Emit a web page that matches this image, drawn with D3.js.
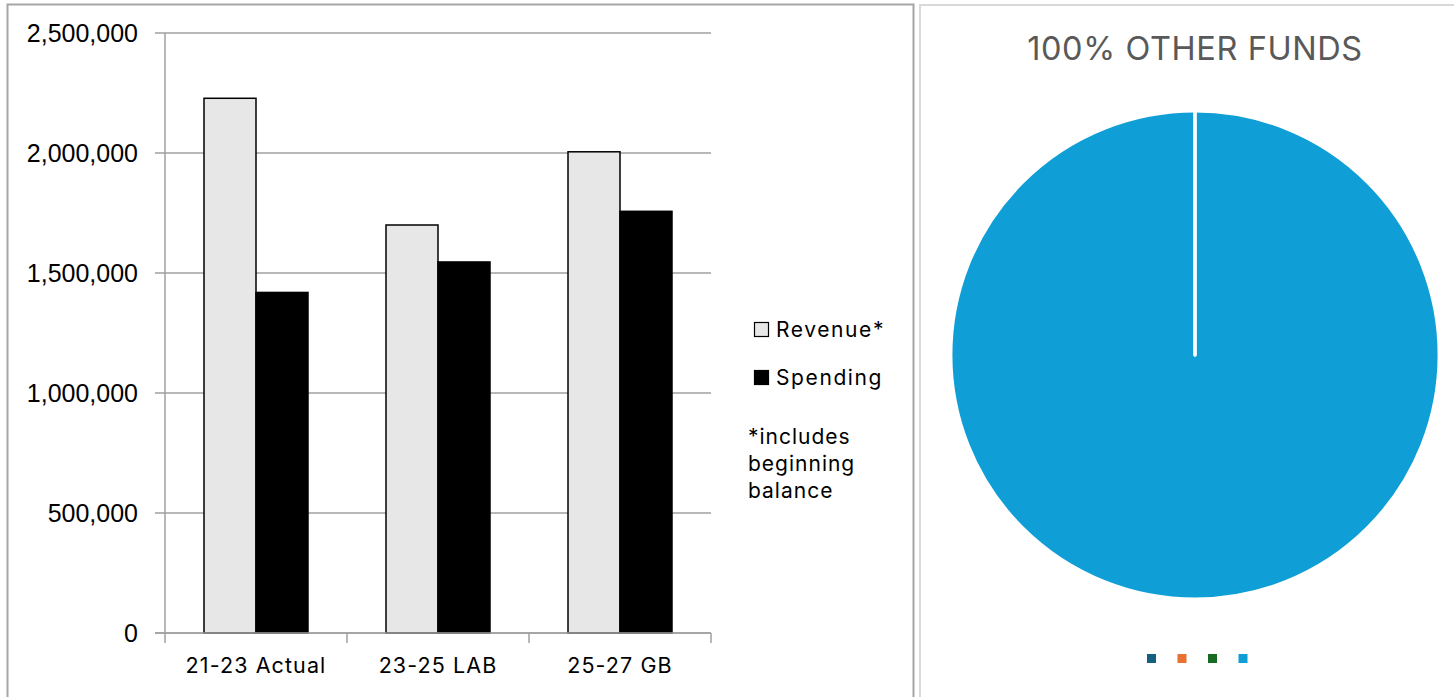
<!DOCTYPE html>
<html><head><meta charset="utf-8">
<script src="https://cdn.jsdelivr.net/npm/d3@7"></script>
<style>body{margin:0;background:#fff}svg{display:block}</style>
</head><body>
<svg id="c" width="1454" height="697"></svg>
<script>
const categories = ["21-23 Actual", "23-25 LAB", "25-27 GB"];
const seriesNames = ["Revenue*", "Spending"];
const revenue = [2228000, 1700000, 2005000];
const spending = [1419000, 1546000, 1757000];
const yTicks = [0, 500000, 1000000, 1500000, 2000000, 2500000];
const noteLines = ["*includes", "beginning", "balance"];
const pieTitle = "100% OTHER FUNDS";
const pieCategories = ["General Fund", "Lottery Funds", "Federal Funds", "Other Funds"];
const pieValues = [0, 0, 0, 100];
const pieColors = ["#156082", "#E97132", "#196B24", "#0F9ED5"];

const FONT = "Inter, Roboto, sans-serif";
const svg = d3.select("#c");
// panel borders
svg.append("rect").attr("x", 7.5).attr("y", 4.5).attr("width", 906).attr("height", 710)
  .attr("fill", "none").attr("stroke", "#A6A6A6").attr("stroke-width", 2);
svg.append("rect").attr("x", 920).attr("y", 5).attr("width", 560).attr("height", 710)
  .attr("fill", "none").attr("stroke", "#D9D9D9").attr("stroke-width", 2);

// bar chart
const x0 = d3.scaleBand().domain(categories).range([165, 711]).paddingInner(0).paddingOuter(0);
const x1 = d3.scaleBand().domain(seriesNames).range([39, 182 - 39]);
const y = d3.scaleLinear().domain([0, 2500000]).range([633, 33]);
const g = svg.append("g");
const fmt = d3.format(",");

// gridlines
g.selectAll(".grid").data(yTicks).join("line")
  .attr("x1", 155).attr("x2", 711).attr("y1", d => y(d)).attr("y2", d => y(d))
  .attr("stroke", "#A0A0A0").attr("stroke-width", 1.5);
// y axis line
g.append("line").attr("x1", 165).attr("x2", 165).attr("y1", 33).attr("y2", 633)
  .attr("stroke", "#A0A0A0").attr("stroke-width", 1.5);
g.selectAll(".ylab").data(yTicks).join("text")
  .attr("x", 138).attr("y", d => y(d)).attr("dy", "0.36em").attr("text-anchor", "end")
  .attr("font-family", "Liberation Sans, Arial, sans-serif").attr("font-size", 25).attr("fill", "#000")
  .text(d => fmt(d));

// bars
const rows = categories.map((c, i) => ({c, vals: [revenue[i], spending[i]]}));
const grp = g.selectAll(".cat").data(rows).join("g").attr("transform", d => `translate(${x0(d.c)},0)`);
grp.selectAll("rect").data(d => d.vals.map((v, j) => ({v, s: seriesNames[j]}))).join("rect")
  .attr("x", d => x1(d.s)).attr("width", x1.bandwidth())
  .attr("y", d => y(d.v)).attr("height", d => y(0) - y(d.v))
  .attr("fill", d => d.s === seriesNames[0] ? "#E7E7E7" : "#000")
  .attr("stroke", "#000").attr("stroke-width", 1.5);

// x axis
g.append("line").attr("x1", 155).attr("x2", 711).attr("y1", 633).attr("y2", 633)
  .attr("stroke", "#A0A0A0").attr("stroke-width", 1.5);
const bounds = categories.map(c => x0(c)).concat([711]);
g.selectAll(".xt").data(bounds).join("line")
  .attr("x1", d => d).attr("x2", d => d).attr("y1", 633).attr("y2", 643)
  .attr("stroke", "#A0A0A0").attr("stroke-width", 1.5);
g.selectAll(".xlab").data(categories).join("text")
  .attr("x", d => x0(d) + x0.bandwidth() / 2).attr("y", 673).attr("text-anchor", "middle")
  .attr("font-family", FONT).attr("font-size", 21.5).attr("letter-spacing", 1.1).attr("fill", "#000")
  .text(d => d);

// legend
const lg = svg.append("g");
seriesNames.forEach((s, i) => {
  const yy = 322 + i * 48;
  lg.append("rect").attr("x", 754.5).attr("y", yy + 0.5).attr("width", 14).attr("height", 14)
    .attr("fill", i === 0 ? "#E7E7E7" : "#000").attr("stroke", "#000").attr("stroke-width", 1.2);
  lg.append("text").attr("x", 776).attr("y", yy + 14.5)
    .attr("font-family", FONT).attr("font-size", 21).attr("letter-spacing", 1.6).attr("fill", "#000").text(s);
});
noteLines.forEach((t, i) => {
  lg.append("text").attr("x", 748).attr("y", 444 + i * 27)
    .attr("font-family", FONT).attr("font-size", 21).attr("letter-spacing", 1.0).attr("fill", "#000").text(t);
});

// pie
svg.append("text").attr("x", 1195).attr("y", 60).attr("text-anchor", "middle")
  .attr("font-family", FONT).attr("font-size", 32.5).attr("letter-spacing", 0.6).attr("fill", "#595959")
  .text(pieTitle);
const pie = d3.pie().sort(null).value(d => d)(pieValues);
const arc = d3.arc().innerRadius(0).outerRadius(244);
const pg = svg.append("g").attr("transform", "translate(1195,355)");
pg.selectAll("path").data(pie).join("path")
  .attr("d", arc).attr("fill", (d, i) => pieColors[i]);
pg.selectAll(".sep").data(pie).join("path")
  .attr("d", arc).attr("fill", "none").attr("stroke", "#fff").attr("stroke-width", 3)
  .attr("stroke-linejoin", "round");
// pie legend
const pl = svg.append("g");
pieCategories.forEach((c, i) => {
  pl.append("rect").attr("x", 1147 + i * 30.5).attr("y", 654).attr("width", 9).attr("height", 9)
    .attr("fill", pieColors[i]).append("title").text(c);
});
</script>
</body></html>
